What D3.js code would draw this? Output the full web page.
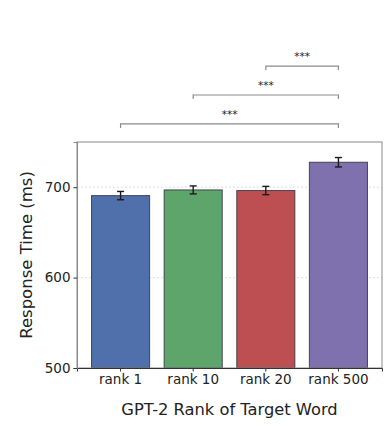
<!DOCTYPE html>
<html>
<head>
<meta charset="utf-8">
<script src="https://cdn.jsdelivr.net/npm/d3@7"></script>
<style>
  html, body { margin: 0; padding: 0; background: #fff; }
  svg { display: block; font-family: "DejaVu Sans", sans-serif; }
</style>
</head>
<body>
<svg id="chart" width="392" height="446"></svg>
<script>
const categories = ["rank 1", "rank 10", "rank 20", "rank 500"];
const meanRT = [690.7, 697.0, 696.3, 727.6];
const errorRT = [4.6, 4.4, 4.6, 5.2];
const barColors = ["#5070ab", "#5da56b", "#bd4f53", "#7e71ad"];
const yTicks = [500, 600, 700];
const compFrom = ["rank 1", "rank 10", "rank 20"];
const compTo = ["rank 500", "rank 500", "rank 500"];
const compLevel = [770, 802, 834];
const compLabel = ["***", "***", "***"];

const W = 392, H = 446;
const margin = { top: 142, right: 10, bottom: 78, left: 77 };
const svg = d3.select("#chart");

const x = d3.scaleBand().domain(categories)
  .range([margin.left, W - margin.right]).paddingInner(0.2).paddingOuter(0.2);
const y = d3.scaleLinear().domain([500, 750]).range([H - margin.bottom, margin.top]);

// grid
svg.append("g").selectAll("line").data(yTicks.filter(d => d > 500)).join("line")
  .attr("x1", margin.left).attr("x2", W - margin.right)
  .attr("y1", d => y(d)).attr("y2", d => y(d))
  .attr("stroke", "#d8d8d8").attr("stroke-width", 0.8).attr("stroke-dasharray", "2,2");

// bars
const data = categories.map((c, i) => ({ c, m: meanRT[i], e: errorRT[i], col: barColors[i] }));
svg.append("g").selectAll("rect").data(data).join("rect")
  .attr("x", d => x(d.c)).attr("width", x.bandwidth())
  .attr("y", d => y(d.m)).attr("height", d => y(500) - y(d.m))
  .attr("fill", d => d.col).attr("stroke", "#2b2b3a").attr("stroke-opacity", 0.8).attr("stroke-width", 1);

// error bars
const eb = svg.append("g").attr("stroke", "#1a1a1a").attr("stroke-width", 1.4);
data.forEach(d => {
  const cx = x(d.c) + x.bandwidth() / 2;
  eb.append("line").attr("x1", cx).attr("x2", cx).attr("y1", y(d.m - d.e)).attr("y2", y(d.m + d.e));
  [d.m - d.e, d.m + d.e].forEach(v => {
    eb.append("line").attr("x1", cx - 3.5).attr("x2", cx + 3.5).attr("y1", y(v)).attr("y2", y(v));
  });
});

// frame
svg.append("rect").attr("x", margin.left).attr("y", margin.top)
  .attr("width", W - margin.right - margin.left).attr("height", H - margin.bottom - margin.top)
  .attr("fill", "none").attr("stroke", "#8a8a8a").attr("stroke-width", 1);

// axes
const xAxis = svg.append("g").attr("transform", `translate(0,${H - margin.bottom})`)
  .call(d3.axisBottom(x).tickSize(3.5).tickPadding(3));
xAxis.select(".domain").attr("stroke", "#333");
xAxis.selectAll(".tick line").attr("stroke", "#333");
xAxis.selectAll("text").attr("font-size", "13.5px").attr("fill", "#222")
  .attr("font-family", "DejaVu Sans, sans-serif");

const yAxis = svg.append("g").attr("transform", `translate(${margin.left},0)`)
  .call(d3.axisLeft(y).tickValues(yTicks).tickSize(3.5).tickPadding(3));
yAxis.select(".domain").attr("stroke", "#8a8a8a");
yAxis.selectAll(".tick line").attr("stroke", "#333");
yAxis.selectAll("text").attr("font-size", "13.5px").attr("fill", "#222")
  .attr("font-family", "DejaVu Sans, sans-serif");

// axis labels
svg.append("text").attr("x", (margin.left + W - margin.right) / 2 ).attr("y", 415)
  .attr("text-anchor", "middle").attr("font-size", "16.3px").attr("fill", "#222")
  .text("GPT-2 Rank of Target Word");
svg.append("text").attr("transform", `translate(32,${(margin.top + H - margin.bottom) / 2}) rotate(-90)`)
  .attr("text-anchor", "middle").attr("font-size", "16.5px").attr("fill", "#222")
  .text("Response Time (ms)");

// significance brackets
const br = svg.append("g");
compFrom.forEach((f, i) => {
  const x1 = x(f) + x.bandwidth() / 2, x2 = x(compTo[i]) + x.bandwidth() / 2;
  const yy = y(compLevel[i]);
  br.append("path").attr("d", `M${x1},${yy + 4}V${yy}H${x2}V${yy + 4}`)
    .attr("fill", "none").attr("stroke", "#8c8c8c").attr("stroke-width", 1.2);
  br.append("text").attr("x", (x1 + x2) / 2).attr("y", yy - 6)
    .attr("text-anchor", "middle").attr("font-size", "10.5px").attr("fill", "#222")
    .text(compLabel[i]);
});
</script>
</body>
</html>
